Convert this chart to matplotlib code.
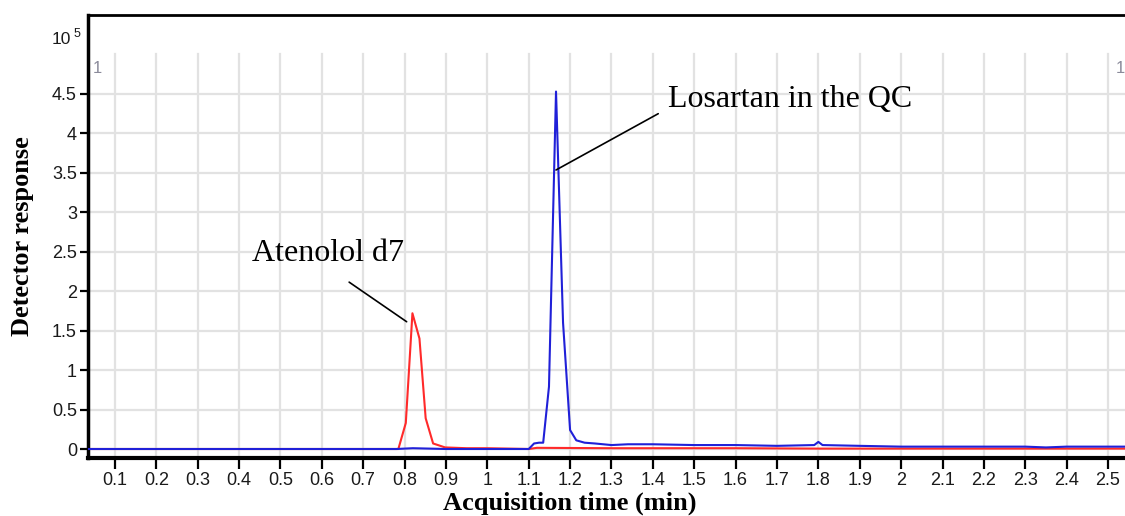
import matplotlib
matplotlib.use("Agg")
import matplotlib.pyplot as plt
import numpy as np

# ---- data ----
losartan_t = [0.035, 0.78, 0.82, 0.86, 0.90, 1.10, 1.113, 1.125, 1.135, 1.149, 1.166,
              1.183, 1.200, 1.215, 1.235, 1.26, 1.30, 1.34, 1.40, 1.50, 1.60, 1.70,
              1.79, 1.80, 1.81, 1.90, 2.00, 2.10, 2.20, 2.30, 2.35, 2.40, 2.50, 2.541]
losartan_y = [0.0, 0.0, 0.01, 0.005, 0.0, 0.0, 0.07, 0.08, 0.08, 0.79, 4.53,
              1.60, 0.24, 0.11, 0.08, 0.07, 0.05, 0.06, 0.06, 0.05, 0.05, 0.04,
              0.05, 0.09, 0.05, 0.04, 0.03, 0.03, 0.03, 0.03, 0.02, 0.03, 0.03, 0.03]

atenolol_t = [0.035, 0.785, 0.803, 0.819, 0.836, 0.851, 0.869, 0.898, 0.95, 1.00,
              1.10, 1.12, 1.30, 1.60, 1.80, 2.00, 2.50, 2.541]
atenolol_y = [0.0, 0.0, 0.33, 1.72, 1.40, 0.39, 0.07, 0.02, 0.01, 0.01,
              0.0, 0.015, 0.01, 0.01, 0.005, 0.005, 0.005, 0.005]

x_ticks = [round(0.1 * i, 1) for i in range(1, 26)]
x_tick_labels = [("%g" % v) for v in x_ticks]
y_ticks = [0, 0.5, 1, 1.5, 2, 2.5, 3, 3.5, 4, 4.5]
y_tick_labels = ["0", "0.5", "1", "1.5", "2", "2.5", "3", "3.5", "4", "4.5"]

# ---- figure ----
W, H = 1125, 516
fig = plt.figure(figsize=(W / 100, H / 100), dpi=100)
ax = fig.add_axes([88 / W, 1 - 458 / H, 1 - 88 / W, (458 - 15) / H])

xmin, xmax = 0.035, 2.541
ymin, ymax = -0.114, 5.5
ax.set_xlim(xmin, xmax)
ax.set_ylim(ymin, ymax)

grid_c = "#e2e2e2"
for xv in x_ticks:
    ax.plot([xv, xv], [ymin, 5.0], color=grid_c, lw=1.6, zorder=0)
for yv in y_ticks:
    ax.plot([xmin, xmax], [yv, yv], color=grid_c, lw=1.6, zorder=0)

ax.plot(atenolol_t, atenolol_y, color="#ff2a2a", lw=1.5, zorder=2)
ax.plot(losartan_t, losartan_y, color="#2020d8", lw=1.5, zorder=3)

tick_font = ["Liberation Sans Narrow", "Liberation Sans"]
ax.set_xticks(x_ticks)
ax.set_xticklabels(x_tick_labels, fontfamily=tick_font, fontsize=13, color="#1a1a1a")
ax.set_yticks(y_ticks)
ax.set_yticklabels(y_tick_labels, fontfamily=tick_font, fontsize=13, color="#1a1a1a")
ax.tick_params(axis="x", direction="out", length=8, width=1.6, pad=2, colors="black",
               labelcolor="#1a1a1a")
ax.tick_params(axis="y", direction="out", length=6, width=1.6, pad=2, colors="black",
               labelcolor="#1a1a1a")

ax.spines["left"].set_linewidth(2.5)
ax.spines["bottom"].set_linewidth(3)
ax.spines["top"].set_linewidth(2)
ax.spines["right"].set_visible(False)

serif = ["Liberation Serif", "DejaVu Serif"]
ax.set_xlabel("Acquisition time (min)", fontfamily=serif, fontweight="bold", fontsize=19)
ax.xaxis.set_label_coords((570 - 88) / (W - 88), -0.076)
ax.set_ylabel("Detector response", fontfamily=serif, fontweight="bold", fontsize=19)
ax.yaxis.set_label_coords((34 - 88) / (W - 88), 0.5)

# exponent label and trace markers
fig.text(52 / W, 1 - 44 / H, "10", fontfamily=tick_font, fontsize=12.5, color="#1a1a1a",
         ha="left", va="baseline")
fig.text(74 / W, 1 - 37 / H, "5", fontfamily=tick_font, fontsize=9, color="#1a1a1a",
         ha="left", va="baseline")
fig.text(93 / W, 1 - 73 / H, "1", fontfamily=tick_font, fontsize=12, color="#8a8a9a",
         ha="left", va="baseline")
fig.text(1116 / W, 1 - 73 / H, "1", fontfamily=tick_font, fontsize=12, color="#8a8a9a",
         ha="left", va="baseline")

# annotations
ax.annotate("Atenolol d7", xy=(0.805, 1.613), xytext=(0.431, 2.387),
            fontfamily=serif, fontsize=23, ha="left", va="baseline",
            arrowprops=dict(arrowstyle="-", color="black", lw=1.2,
                            shrinkA=0, shrinkB=0,
                            patchA=None, relpos=(0.64, -0.5)))
ax.annotate("Losartan in the QC", xy=(1.166, 3.536), xytext=(1.4366, 4.338),
            fontfamily=serif, fontsize=23, ha="left", va="baseline",
            arrowprops=dict(arrowstyle="-", color="black", lw=1.2,
                            shrinkA=0, shrinkB=0,
                            patchA=None, relpos=(-0.04, 0.0)))

fig.savefig("out.png", dpi=100)
